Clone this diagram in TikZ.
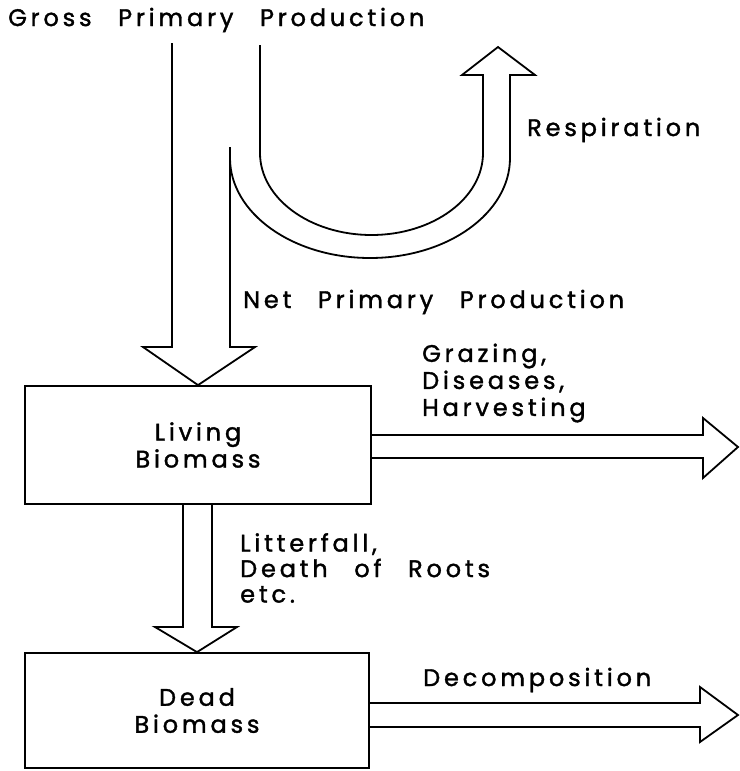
\documentclass[tikz,border=0pt]{standalone}
\usepackage{fontspec}
\setmainfont{Poppins}[LetterSpace=16, WordSpace=2.6, FakeBold=1.5]
\usetikzlibrary{calc}
\tikzstyle{box} = [draw, line width=1.8pt, minimum width=346pt, minimum height=118pt, align=center, inner sep=0pt]
\tikzstyle{lbl} = [anchor=west, align=left, inner sep=0pt]
\tikzstyle{flow} = [line width=1.8pt, line join=miter]

\begin{document}
\begin{tikzpicture}[x=1pt, y=1pt, every node/.style={font=\fontsize{24}{27}\selectfont}]
    \useasboundingbox (0,0) rectangle (739,-771);

    % boxes
    \node[box] (living) at (198,-445) {Living\\Biomass};
    \node[box, minimum width=344pt, minimum height=115pt] (dead) at (197,-710.5) {Dead\\Biomass};

    % labels
    \node[lbl] (gpp) at (8,-20) {Gross Primary Production};
    \node[lbl] (resp) at (527,-130) {Respiration};
    \node[lbl] (npp) at (243,-302) {Net Primary Production};
    \node[lbl] (graz) at (422,-383) {Grazing,\\Diseases,\\Harvesting};
    \node[lbl, font=\fontsize{24}{25.5}\selectfont] (litt) at (240,-568) {Litterfall,\\Death of Roots\\etc.};
    \node[lbl] (decomp) at (423,-680) {Decomposition};

    % gross production into living biomass
    \draw[flow] (172,-43) -- (172,-347) -- (143,-347) -- (living.north) -- (255,-347) -- (230,-347) -- (230,-147);

    % respiration loop
    \draw[flow] (260,-45) -- (260,-153) arc[start angle=180, end angle=360, x radius=111.5, y radius=82]
        -- (483,-75) -- (462,-75) -- (498,-47) -- (535,-75) -- (510,-75) -- (510,-158)
        arc[start angle=0, end angle=-180, x radius=140, y radius=100];

    % grazing out of living biomass
    \draw[flow] (living.east |- 0,-435) -- (703,-435) -- (703,-418) -- (738,-447) -- (703,-478) -- (703,-458) -- (living.east |- 0,-458);

    % litterfall
    \draw[flow] (183,-504) -- (183,-627) -- (155,-627) -- (dead.north) -- (237,-627) -- (212,-627) -- (212,-504);

    % decomposition
    \draw[flow] (dead.east |- 0,-703) -- (700,-703) -- (700,-687) -- (738,-715) -- (700,-742) -- (700,-727) -- (dead.east |- 0,-727);

\end{tikzpicture}
\end{document}
